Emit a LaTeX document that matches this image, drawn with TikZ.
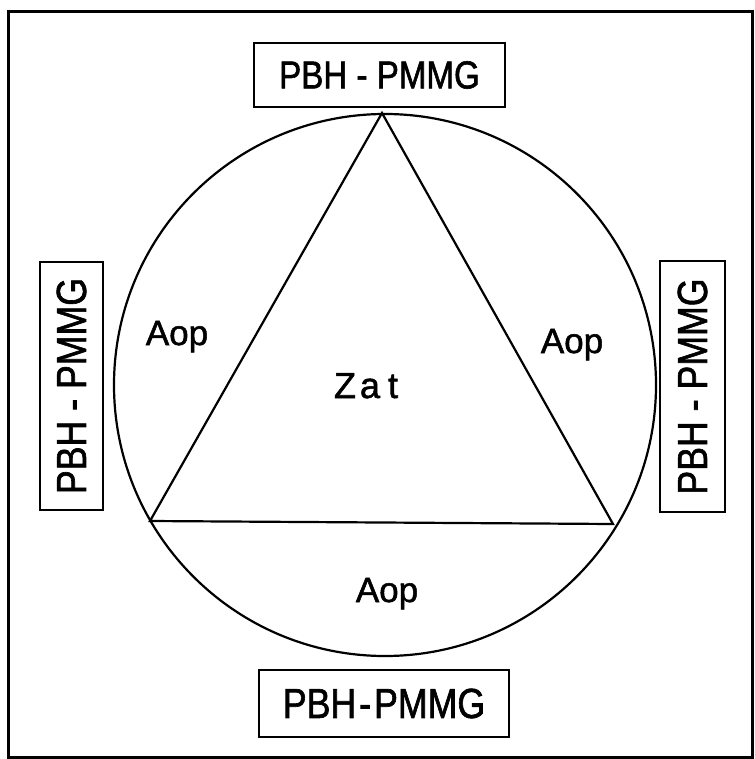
\documentclass[tikz,border=0pt]{standalone}
\usepackage{fontspec}
\newfontfamily\labfont[FakeStretch=0.85,FakeBold=1.5]{Liberation Sans}
\newfontfamily\txtfont[FakeBold=1.5]{Liberation Sans}
\tikzset{
  pbox/.style={draw, line width=2.8pt, inner sep=0pt, font=\labfont},
  region/.style={anchor=base, inner sep=0pt, font=\txtfont\fontsize{35}{35}\selectfont},
  thinline/.style={line width=2.2pt}
}
\begin{document}
\begin{tikzpicture}[x=1pt,y=-1pt]
\useasboundingbox (0,0) rectangle (754,759);
% outer frame
\draw[line width=3pt] (8,12) rectangle (752,757);
% circle
\node[circle, draw, thinline, minimum size=542pt, inner sep=0pt] (circ) at (385,385) {};
% triangle
\coordinate (tA) at (382,113);
\coordinate (tB) at (150,521);
\coordinate (tC) at (613,524);
\draw[thinline, line join=miter] (tA) -- (tB) -- (tC) -- cycle;
% boxes
\node[pbox, minimum width=251pt, minimum height=64pt] (top) at (379.5,75)
  {\fontsize{39}{39}\selectfont PBH - PMMG};
\node[pbox, minimum width=250pt, minimum height=67pt] (bottom) at (384,703.5)
  {\fontsize{42}{42}\selectfont PBH\kern3pt-\kern3pt PMMG};
\node[pbox, rotate=90, minimum width=248pt, minimum height=63pt] (left) at (71.5,386)
  {\fontsize{42}{42}\selectfont PBH - PMMG};
\node[pbox, rotate=90, minimum width=251pt, minimum height=65pt] (right) at (692.5,386.5)
  {\fontsize{42}{42}\selectfont PBH - PMMG};
% region labels
\node[region] (aopL) at (177,345) {Aop};
\node[region] (aopR) at (572,353) {Aop};
\node[region] (aopB) at (387,602) {Aop};
\node[region, font=\txtfont\fontsize{36}{36}\selectfont] (zat) at (366,398) {Z\kern4pt a\kern8pt t};
\end{tikzpicture}
\end{document}
